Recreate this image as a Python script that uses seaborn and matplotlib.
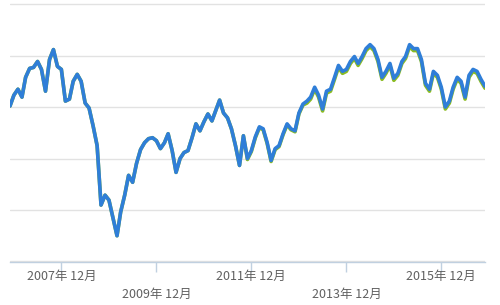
import numpy as np
import pandas as pd
import matplotlib
matplotlib.use("Agg")
import matplotlib.pyplot as plt
import matplotlib.dates as mdates
import seaborn as sns

# monthly samples, Nov 2006 .. Nov 2016 (index level, arbitrary units)
start_month = "2006-11-01"
fund = [157, 168, 174, 166, 186, 195, 196, 202, 194, 172,
        204, 214, 197, 194, 162, 164, 182, 189, 182, 160,
        155, 137, 117, 57, 67, 62, 44, 26, 50, 67,
        87, 80, 99, 113, 120, 124, 125, 122, 114, 120,
        129, 112, 90, 104, 110, 112, 125, 139, 132, 141,
        149, 142, 152, 163, 150, 145, 134, 117, 97, 127,
        104, 112, 126, 136, 134, 120, 102, 114, 117, 129,
        139, 134, 132, 150, 159, 162, 166, 176, 168, 154,
        172, 174, 186, 198, 192, 194, 202, 207, 200, 207,
        215, 219, 215, 204, 186, 192, 200, 185, 190, 202,
        207, 219, 215, 215, 204, 180, 174, 192, 188, 176,
        156, 162, 176, 186, 182, 166, 188, 194, 192, 184,
        177]
benchmark = [157, 168, 174, 166, 186, 195, 196, 202, 194, 172,
             204, 214, 197, 194, 162, 164, 182, 189, 182, 160,
             155, 137, 117, 57, 67, 62, 44, 26, 50, 67,
             87, 80, 99, 113, 120, 124, 125, 122, 114, 120,
             129, 112, 90, 104, 110, 112, 125, 139, 132, 141,
             149, 142, 152, 163, 150, 145, 134, 117, 97, 127,
             103, 111, 125, 135, 133, 119, 101, 113, 116, 128,
             138, 133, 131, 149, 158, 160, 164, 174, 166, 152,
             170, 172, 184, 196, 190, 192, 200, 205, 198, 205,
             213, 217, 213, 202, 184, 190, 198, 183, 188, 200,
             205, 217, 213, 213, 202, 178, 172, 190, 186, 174,
             154, 160, 174, 184, 180, 164, 186, 192, 190, 182,
             175]
series_names = ["ファンド", "ベンチマーク"]
tick_dates = ["2007-12-01", "2009-12-01", "2011-12-01", "2013-12-01", "2015-12-01"]
tick_labels = ["2007年 12月", "\n2009年 12月", "2011年 12月", "\n2013年 12月", "2015年 12月"]
y_grid = [0, 52, 104, 156, 208, 260]

dates = pd.date_range(start_month, periods=len(fund), freq="MS")
df = pd.DataFrame({
    "date": list(dates) * 2,
    "value": benchmark + fund,
    "series": [series_names[1]] * len(benchmark) + [series_names[0]] * len(fund),
})

sns.set_theme(style="white")
plt.rcParams["font.family"] = ["Noto Sans CJK JP", "DejaVu Sans"]

fig = plt.figure(figsize=(5, 3.05), dpi=100)
ax = fig.add_axes([0.02, 0.141, 0.95, 0.849])

sns.lineplot(data=df, x="date", y="value", hue="series",
             hue_order=[series_names[1], series_names[0]],
             palette=["#8bbc21", "#2f7ed8"], linewidth=2.6,
             legend=False, ax=ax, estimator=None, sort=False)

ax.set_xlim(dates[0], dates[-1])
ax.set_ylim(-0.5, 261)
ax.set_yticks(y_grid)
ax.set_yticklabels([])
ax.tick_params(axis="y", length=0)
ax.yaxis.grid(True, color="#e2e2e2", linewidth=1)
ax.xaxis.grid(False)
ax.set_axisbelow(True)

ax.set_xticks([mdates.date2num(pd.Timestamp(d)) for d in tick_dates])
ax.set_xticklabels(tick_labels, fontsize=9, color="#606060", linespacing=1.5)
ax.tick_params(axis="x", length=7, width=1, color="#C0D0E0", direction="out", pad=-1, bottom=True)

for s in ["top", "left", "right"]:
    ax.spines[s].set_visible(False)
ax.spines["bottom"].set_color("#C0D0E0")
ax.spines["bottom"].set_linewidth(1)
ax.set_xlabel("")
ax.set_ylabel("")

fig.savefig("out.png", dpi=100, facecolor="white")
